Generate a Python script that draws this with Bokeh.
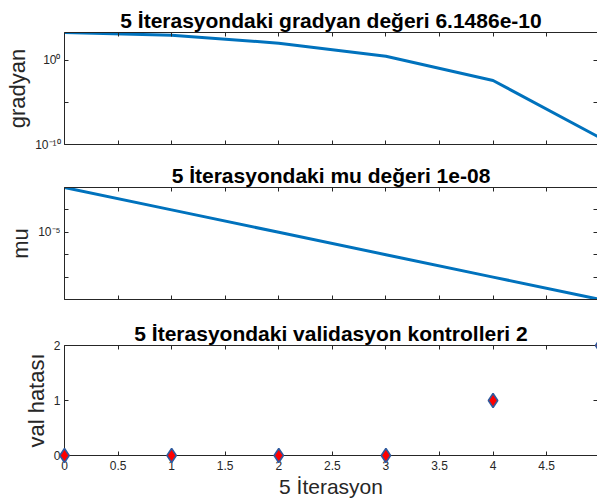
from bokeh.plotting import figure
from bokeh.layouts import column
from bokeh.models import (FixedTicker, CustomJSTickFormatter, LogAxis, LinearAxis,
                          Range1d)
from bokeh.embed import file_html
from bokeh.resources import INLINE

# ---------------- data ----------------
epochs = [0, 1, 2, 3, 4, 5]
gradient = [2140, 1020, 115, 3.2, 4.2e-3, 6.1486e-10]
mu = [1e-3, 1e-4, 1e-5, 1e-6, 1e-7, 1e-8]
val_fail = [0, 0, 0, 0, 1, 2]

titles = ["5 İterasyondaki gradyan değeri 6.1486e-10",
          "5 İterasyondaki mu değeri 1e-08",
          "5 İterasyondaki validasyon kontrolleri 2"]
y_labels = ["gradyan", "mu", "val hatası"]
x_label = "5 İterasyon"

grad_ticks = [1e-10, 1e-5, 1e0]
grad_tick_exps = [0, -10]
grad_tick_labels = ["10⁰", "10⁻¹⁰"]
mu_ticks = [1e-8, 1e-7, 1e-6, 1e-5, 1e-4, 1e-3]
mu_tick_exps = [-5]
mu_tick_labels = ["10⁻⁵"]
x_ticks = [0, 0.5, 1, 1.5, 2, 2.5, 3, 3.5, 4, 4.5, 5]
x_tick_labels = ["0", "0.5", "1", "1.5", "2", "2.5", "3", "3.5", "4", "4.5", "5"]
val_ticks = [0, 1, 2]
val_tick_labels = ["0", "1", "2"]

# ---------------- style ----------------
FONT = "Liberation Sans"
AX = "#262626"
BLUE = "#0072BD"
EDGE = "#2f5a9e"
W = 597
X_END = 4.975  # the reference is cropped just before x = 5

log_fmt_code = """
const e = Math.round(Math.log10(tick));
const i = exps.indexOf(e);
return i >= 0 ? labs[i] : "";
"""
lin_fmt_code = """
for (let i = 0; i < tv.length; i++) {
  if (Math.abs(tv[i] - tick) < 1e-9) return labs[i];
}
return "";
"""


def inward(ax, show_labels=True):
    ax.major_tick_in = 4
    ax.major_tick_out = 0
    ax.minor_tick_in = 0
    ax.minor_tick_out = 0
    ax.major_tick_line_color = AX
    ax.axis_line_color = AX
    if show_labels:
        ax.major_label_text_font = FONT
        ax.major_label_text_font_size = "12px"
        ax.major_label_text_color = AX
        ax.major_label_standoff = 4
    else:
        ax.major_label_text_font_size = "0px"
        ax.major_label_standoff = 0
        ax.formatter = CustomJSTickFormatter(code='return "";')


def make_fig(title, ylabel, height, top, bottom, y_type, y_range, y_ticker, y_fmt,
             show_x_labels):
    p = figure(width=W, height=height, x_range=Range1d(0, X_END), y_range=y_range,
               y_axis_type=y_type, output_backend="svg", toolbar_location=None,
               min_border_left=64, min_border_right=0, min_border_top=top,
               min_border_bottom=bottom)
    p.title.text = title
    p.title.text_font = FONT
    p.title.text_font_size = "21px"
    p.title.text_font_style = "bold"
    p.title.text_color = "#000000"
    p.title.align = "center"
    p.title.standoff = 2
    p.outline_line_color = None
    p.xgrid.visible = False
    p.ygrid.visible = False
    p.background_fill_color = "white"
    p.border_fill_color = "white"

    xa = p.xaxis[0]
    xa.ticker = FixedTicker(ticks=x_ticks, minor_ticks=[])
    inward(xa, show_x_labels)
    if show_x_labels:
        xa.formatter = CustomJSTickFormatter(args=dict(tv=x_ticks, labs=x_tick_labels),
                                             code=lin_fmt_code)
        xa.major_label_standoff = 5
        xa.axis_label = x_label
        xa.axis_label_text_font = FONT
        xa.axis_label_text_font_size = "21px"
        xa.axis_label_text_font_style = "normal"
        xa.axis_label_text_color = AX
        xa.axis_label_standoff = 2

    ya = p.yaxis[0]
    ya.ticker = y_ticker
    ya.formatter = y_fmt
    inward(ya, True)
    ya.axis_label = ylabel
    ya.axis_label_text_font = FONT
    ya.axis_label_text_font_size = "22px"
    ya.axis_label_text_font_style = "normal"
    ya.axis_label_text_color = AX
    ya.axis_label_standoff = 2

    top_ax = LinearAxis(ticker=FixedTicker(ticks=x_ticks, minor_ticks=[]))
    inward(top_ax, False)
    p.add_layout(top_ax, "above")

    if y_type == "log":
        right_ax = LogAxis(ticker=FixedTicker(ticks=list(y_ticker.ticks), minor_ticks=[]))
    else:
        right_ax = LinearAxis(ticker=FixedTicker(ticks=list(y_ticker.ticks), minor_ticks=[]))
    inward(right_ax, False)
    right_ax.axis_line_color = None
    p.add_layout(right_ax, "right")
    return p


# ---- gradient ----
p1 = make_fig(titles[0], y_labels[0], 160, 32, 16, "log",
              Range1d(1e-10, gradient[0]),
              FixedTicker(ticks=grad_ticks, minor_ticks=[]),
              CustomJSTickFormatter(args=dict(exps=grad_tick_exps, labs=grad_tick_labels),
                                    code=log_fmt_code),
              False)
p1.line(epochs, gradient, line_color=BLUE, line_width=3)

# ---- mu ----
p2 = make_fig(titles[1], y_labels[1], 158, 27, 19, "log",
              Range1d(min(mu), max(mu)),
              FixedTicker(ticks=mu_ticks, minor_ticks=[]),
              CustomJSTickFormatter(args=dict(exps=mu_tick_exps, labs=mu_tick_labels),
                                    code=log_fmt_code),
              False)
p2.line(epochs, mu, line_color=BLUE, line_width=3)

# ---- validation checks ----
p3 = make_fig(titles[2], y_labels[2], 186, 26, 49, "linear",
              Range1d(0, 2),
              FixedTicker(ticks=val_ticks, minor_ticks=[]),
              CustomJSTickFormatter(args=dict(tv=val_ticks, labs=val_tick_labels),
                                    code=lin_fmt_code),
              True)
p3.scatter(epochs, val_fail, marker="diamond", size=14, fill_color="#ff0000",
           line_color=EDGE, line_width=1.6, level="overlay")

layout = column(p1, p2, p3, spacing=0)
open("out.html", "w").write(file_html(layout, INLINE))
